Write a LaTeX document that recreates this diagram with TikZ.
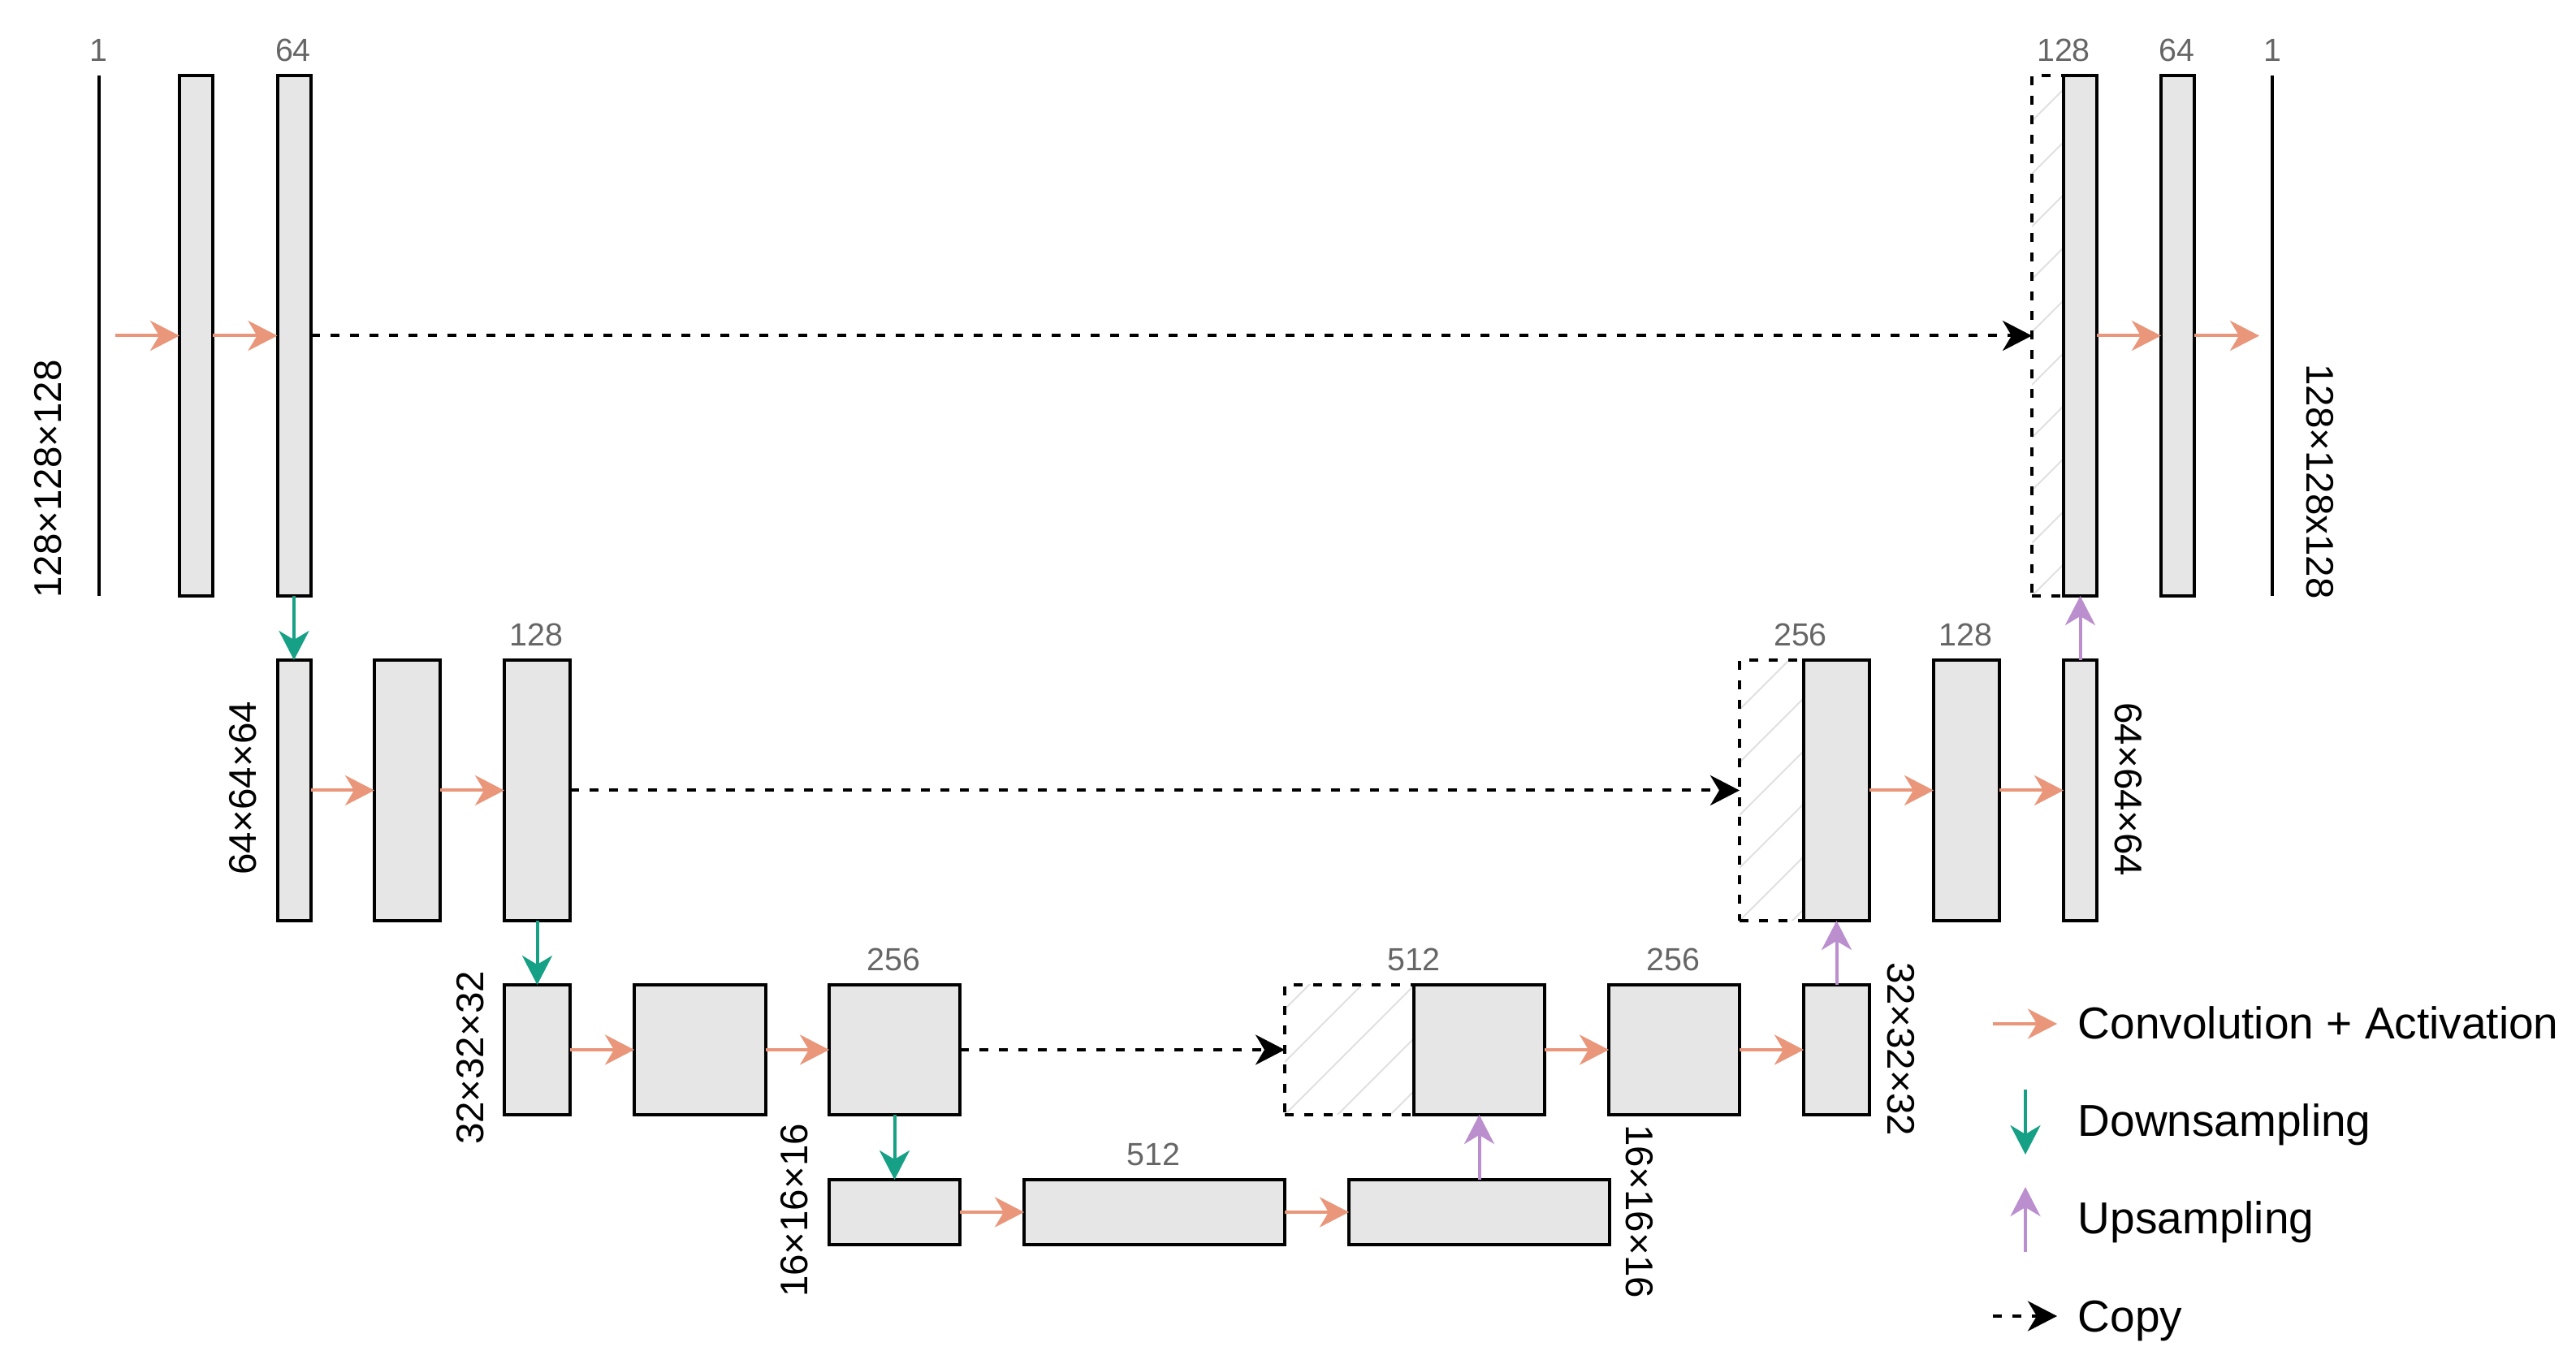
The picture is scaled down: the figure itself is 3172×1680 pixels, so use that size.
\documentclass[tikz,border=0pt]{standalone}
\usepackage{fontspec}
\setmainfont{Liberation Sans}
\usetikzlibrary{arrows.meta,calc}
\definecolor{convc}{HTML}{E9967A}
\definecolor{downc}{HTML}{16A085}
\definecolor{upc}{HTML}{BB8FCE}
\definecolor{boxfill}{HTML}{E6E6E6}
\definecolor{numgray}{HTML}{666666}
\definecolor{hatchc}{HTML}{E0E0E0}
\begin{document}
\begin{tikzpicture}[x=0.01cm,y=-0.01cm,
  lw/.style={line width=0.04cm},
  bx/.style 2 args={rectangle, draw=black, lw, fill=boxfill, inner sep=0pt, outer sep=0pt,
    minimum width=#1*0.01cm, minimum height=#2*0.01cm},
  dbx/.style 2 args={rectangle, draw=black, lw, dash pattern=on 0.11cm off 0.13cm,
    inner sep=0pt, outer sep=0pt, minimum width=#1*0.01cm, minimum height=#2*0.01cm,
    path picture={\foreach \k in {-12,...,4}
      \draw[hatchc, line width=0.02cm, solid]
        ($(path picture bounding box.south west)+(0,\k*65)$) -- ++(2000,-2000);}},
  plane/.style={rectangle, draw=none, inner sep=0pt, outer sep=0pt,
    minimum width=0pt, minimum height=641*0.01cm},
  planeline/.style={draw=black, lw},
  conv/.style={draw=convc, lw, -{Stealth[length=0.36cm,width=0.37cm,inset=0.11cm,fill=convc]}},
  down/.style={draw=downc, lw, -{Stealth[length=0.36cm,width=0.37cm,inset=0.11cm,fill=downc]}},
  up/.style={draw=upc, lw, -{Stealth[length=0.36cm,width=0.37cm,inset=0.11cm,fill=upc]}},
  copy/.style={draw=black, lw, dash pattern=on 0.11cm off 0.13cm, -{Stealth[length=0.36cm,width=0.37cm,inset=0.11cm,fill=black]}},
  num/.style={text=numgray, inner sep=0pt, anchor=base, font=\fontsize{11.2pt}{13pt}\selectfont},
  dimL/.style={inner sep=0pt, rotate=90, font=\fontsize{13.5pt}{16pt}\selectfont},
  dimR/.style={inner sep=0pt, rotate=-90, font=\fontsize{13.5pt}{16pt}\selectfont},
  leg/.style={inner sep=0pt, anchor=base west, font=\fontsize{15.65pt}{18pt}\selectfont}
]
\useasboundingbox (0,0) rectangle (3172,1680);

% ---- row 1
\node[plane] (in) at (122,413.5) {};
\node[bx={41}{641}] (b11) at (241.5,413.5) {};
\node[bx={41}{641}] (b12) at (362,413.5) {};
\node[dbx={39}{641}] (d14) at (2521.5,413.5) {};
\node[bx={41}{641}] (b14) at (2561.5,413.5) {};
\node[bx={41}{641}] (b15) at (2681.5,413.5) {};
\node[plane] (out) at (2798,413.5) {};
\draw[planeline] (in.north) -- (in.south);
\draw[planeline] (out.north) -- (out.south);

% ---- row 2
\node[bx={41}{321}] (b21) at (362,973.5) {};
\node[bx={81}{321}] (b22) at (501.5,973.5) {};
\node[bx={81}{321}] (b23) at (661.5,973.5) {};
\node[dbx={79}{321}] (d24) at (2181.5,973.5) {};
\node[bx={81}{321}] (b24) at (2261.5,973.5) {};
\node[bx={81}{321}] (b25) at (2421.5,973.5) {};
\node[bx={41}{321}] (b26) at (2561.5,973.5) {};

% ---- row 3
\node[bx={81}{160}] (b31) at (661.5,1293) {};
\node[bx={162}{160}] (b32) at (862,1293) {};
\node[bx={161}{160}] (b33) at (1101.5,1293) {};
\node[dbx={159}{160}] (d34) at (1661.5,1293) {};
\node[bx={161}{160}] (b34) at (1821.5,1293) {};
\node[bx={161}{160}] (b35) at (2061.5,1293) {};
\node[bx={81}{160}] (b36) at (2261.5,1293) {};

% ---- row 4
\node[bx={161}{80}] (b41) at (1101.5,1493) {};
\node[bx={321}{80}] (b42) at (1421.5,1493) {};
\node[bx={321}{80}] (b43) at (1821.5,1493) {};

% ---- channel numbers
\node[num] (n11) at (121,75.5) {1};
\node[num] (n12) at (361,75.5) {64};
\node[num] (n14) at (2541,75.5) {128};
\node[num] (n15) at (2680.5,75.5) {64};
\node[num] (n16) at (2798,75.5) {1};
\node[num] (n23) at (660.5,795.5) {128};
\node[num] (n24) at (2217,795.5) {256};
\node[num] (n25) at (2420.5,795.5) {128};
\node[num] (n33) at (1100.5,1195.5) {256};
\node[num] (n34) at (1741,1195.5) {512};
\node[num] (n35) at (2060.5,1195.5) {256};
\node[num] (n42) at (1420.5,1435.5) {512};

% ---- dimension labels
\node[dimL] (s1l) at (59,590) {128×128×128};
\node[dimR] (s1r) at (2857,593) {128×128x128};
\node[dimL] (s2l) at (299,971) {64×64×64};
\node[dimR] (s2r) at (2621,972.5) {64×64×64};
\node[dimL] (s3l) at (579,1303) {32×32×32};
\node[dimR] (s3r) at (2341,1292) {32×32×32};
\node[dimL] (s4l) at (978,1491) {16×16×16};
\node[dimR] (s4r) at (2019,1492) {16×16×16};

% ---- convolution arrows
\draw[conv, shorten <=0.2cm] (in) -- (b11);
\draw[conv] (b11) -- (b12);
\draw[conv] (b14) -- (b15);
\draw[conv, shorten >=0.16cm] (b15) -- (out);
\draw[conv] (b21) -- (b22);
\draw[conv] (b22) -- (b23);
\draw[conv] (b24) -- (b25);
\draw[conv] (b25) -- (b26);
\draw[conv] (b31) -- (b32);
\draw[conv] (b32) -- (b33);
\draw[conv] (b34) -- (b35);
\draw[conv] (b35) -- (b36);
\draw[conv] (b41) -- (b42);
\draw[conv] (b42) -- (b43);

% ---- copy arrows
\draw[copy] (b12) -- (d14);
\draw[copy] (b23) -- (d24);
\draw[copy] (b33) -- (d34);

% ---- down / up sampling
\draw[down] (b12) -- (b21);
\draw[down] (b23) -- (b31);
\draw[down] (b33) -- (b41);
\draw[up] (b43) -- (b34);
\draw[up] (b36) -- (b24);
\draw[up] (b26) -- (b14);

% ---- legend
\coordinate (lc1) at (2454,1261);
\coordinate (lc2) at (2533,1261);
\coordinate (ld1) at (2494,1342);
\coordinate (ld2) at (2494,1422);
\coordinate (lu1) at (2494,1542);
\coordinate (lu2) at (2494,1462);
\coordinate (lp1) at (2454,1621);
\coordinate (lp2) at (2533,1621);
\draw[conv] (lc1) -- (lc2);
\draw[down] (ld1) -- (ld2);
\draw[up] (lu1) -- (lu2);
\draw[copy] (lp1) -- (lp2);
\node[leg] (tc) at (2558,1280) {Convolution + Activation};
\node[leg] (td) at (2558,1400) {Downsampling};
\node[leg] (tu) at (2558,1520) {Upsampling};
\node[leg] (tp) at (2558,1640) {Copy};
\end{tikzpicture}
\end{document}
